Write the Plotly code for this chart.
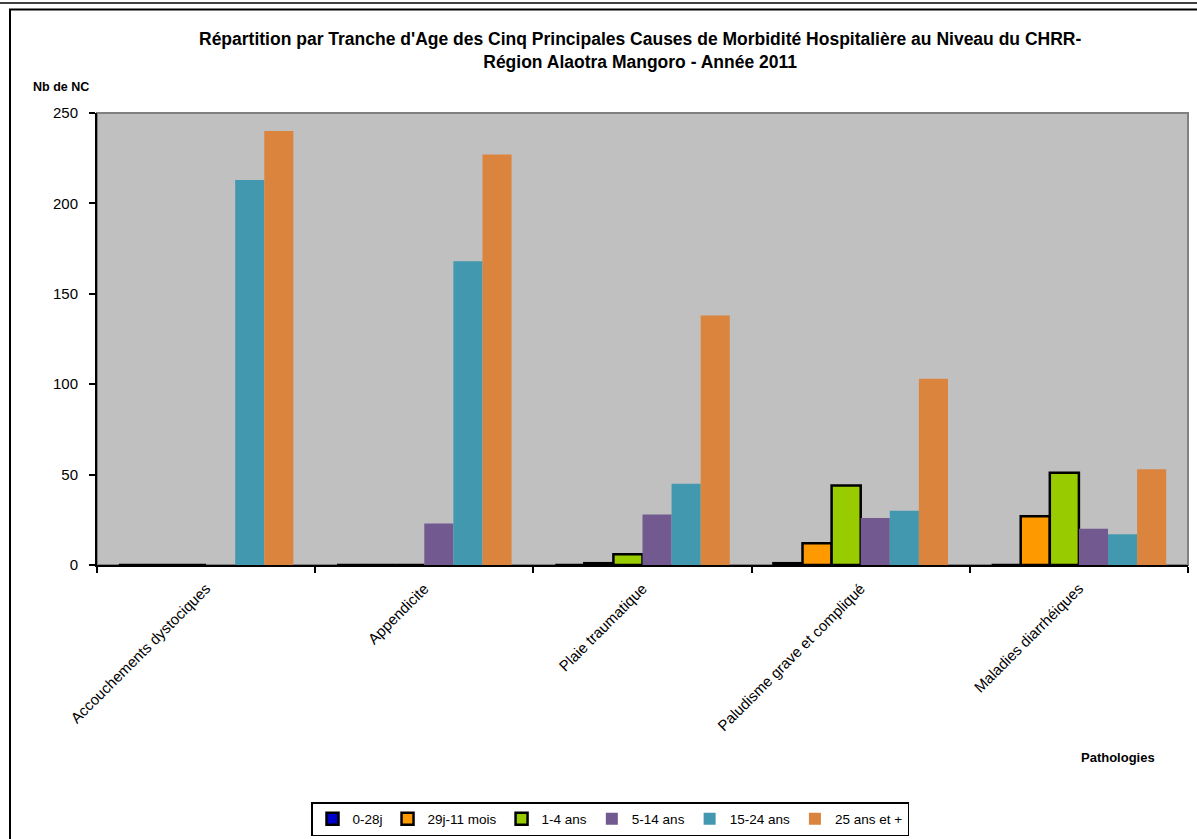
import plotly.graph_objects as go

categories = ["Accouchements dystociques", "Appendicite", "Plaie traumatique",
              "Paludisme grave et compliqué", "Maladies diarrhéiques"]
series_names = ["0-28j", "29j-11 mois", "1-4 ans", "5-14 ans", "15-24 ans", "25 ans et +"]
v_0_28j = [0, 0, 0, 1, 0]
v_29j_11m = [0, 0, 1, 12, 27]
v_1_4 = [0, 0, 6, 44, 51]
v_5_14 = [0, 23, 28, 26, 20]
v_15_24 = [213, 168, 45, 30, 17]
v_25_plus = [240, 227, 138, 103, 53]
y_ticks = [0, 50, 100, 150, 200, 250]

series_values = [v_0_28j, v_29j_11m, v_1_4, v_5_14, v_15_24, v_25_plus]
colors = ["#0000CC", "#FF9900", "#99CC00", "#725990", "#4198AF", "#DB843D"]
outlined = [True, True, True, False, False, False]

FONT = "Liberation Sans, Arial, sans-serif"

fig = go.Figure()
for name, vals, col, ol in zip(series_names, series_values, colors, outlined):
    fig.add_trace(go.Bar(
        x=categories, y=vals, name=name,
        marker=dict(color=col, line=dict(color="black", width=2.5 if ol else 0)),
    ))

W, H = 1197, 839
L, R, T, B = 97, 9, 113, 274
pw, ph = W - L - R, H - T - B

def px(x):
    return (x - L) / pw

def py(y):
    return (H - B - y) / ph

fig.update_layout(
    width=W, height=H,
    margin=dict(l=L, r=R, t=T, b=B, autoexpand=False),
    paper_bgcolor="white",
    plot_bgcolor="#C0C0C0",
    barmode="group",
    bargap=0.2,
    bargroupgap=0,
    font=dict(family=FONT, size=15, color="black"),
    showlegend=True,
    legend=dict(
        orientation="h",
        x=px(610), xanchor="center",
        y=py(802), yanchor="top",
        bgcolor="white",
        bordercolor="black", borderwidth=1.5,
        font=dict(family=FONT, size=13.5, color="black"),
        itemwidth=30,
        traceorder="normal",
    ),
    xaxis=dict(
        type="category",
        tickson="boundaries",
        ticks="outside", ticklen=6, tickwidth=2, tickcolor="black",
        showline=True, linecolor="black", linewidth=2,
        tickangle=-45,
        showgrid=False,
        automargin=False,
        ticklabelstandoff=7,
        tickfont=dict(family=FONT, size=15, color="black"),
    ),
    yaxis=dict(
        range=[0, 250],
        tickvals=y_ticks,
        ticks="outside", ticklen=6, tickwidth=2, tickcolor="black",
        showline=True, linecolor="black", linewidth=2,
        showgrid=False, zeroline=False,
        automargin=False,
        ticklabelstandoff=8,
        tickfont=dict(family=FONT, size=15, color="black"),
    ),
)

fig.add_annotation(
    text="<b>Répartition par Tranche d'Age des Cinq Principales Causes de Morbidité Hospitalière au Niveau du CHRR-</b><br><b>Région Alaotra Mangoro - Année 2011</b>",
    xref="paper", yref="paper", x=px(640), y=py(51), xanchor="center", yanchor="middle",
    showarrow=False, font=dict(family=FONT, size=17.5, color="black"),
)
fig.add_annotation(
    text="<b>Nb de NC</b>", xref="paper", yref="paper", x=px(61), y=py(87),
    xanchor="center", yanchor="middle", showarrow=False,
    font=dict(family=FONT, size=12.5, color="black"),
)
fig.add_annotation(
    text="<b>Pathologies</b>", xref="paper", yref="paper", x=px(1118), y=py(757),
    xanchor="center", yanchor="middle", showarrow=False,
    font=dict(family=FONT, size=13, color="black"),
)

# plot area border (gray top/right)
fig.add_shape(type="rect", xref="paper", yref="paper", x0=0, x1=1, y0=0, y1=1,
              line=dict(color="#808080", width=2), layer="below")
# chart frame
fig.add_shape(type="rect", xref="paper", yref="paper",
              x0=px(10), x1=px(1230), y0=py(880), y1=py(9.5),
              line=dict(color="black", width=2), layer="above")
fig.add_shape(type="line", xref="paper", yref="paper",
              x0=px(-20), x1=px(1230), y0=py(3), y1=py(3),
              line=dict(color="black", width=1.5), layer="above")

fig.write_html("out.html", config={"displayModeBar": False},
               post_script="document.body.style.margin='0px';")
